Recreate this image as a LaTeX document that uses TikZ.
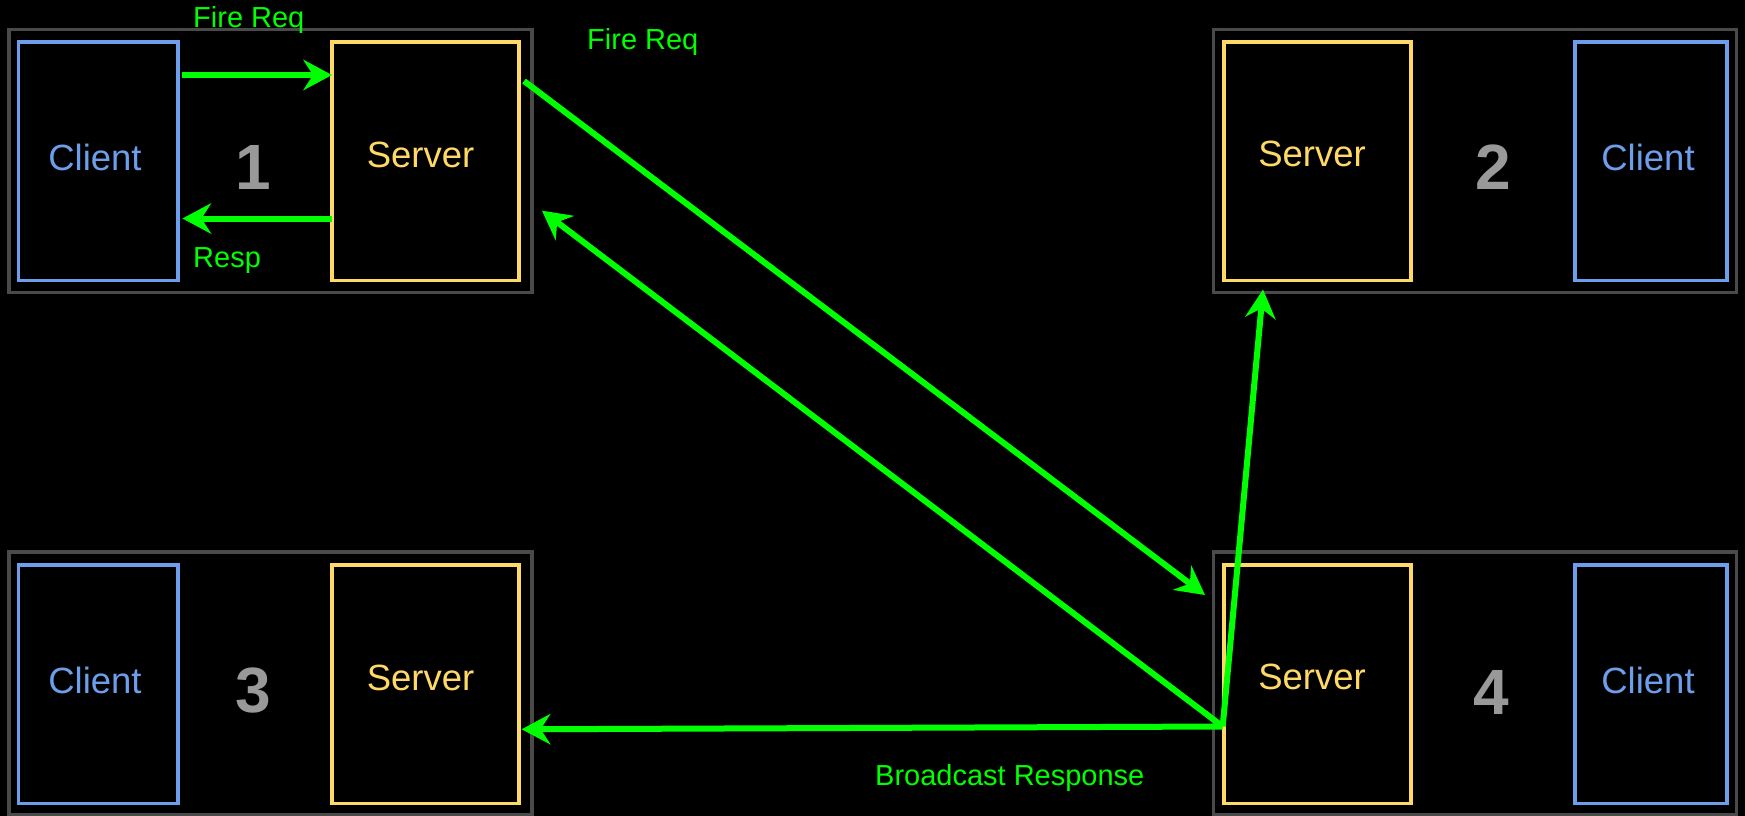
\documentclass[tikz,border=0pt]{standalone}
\usepackage{fontspec}
\setmainfont{Liberation Sans}
\usetikzlibrary{arrows.meta}
\definecolor{cblue}{HTML}{6C9EEB}
\definecolor{syellow}{HTML}{FFD966}
\definecolor{framegray}{HTML}{4A4A4A}
\definecolor{numgray}{HTML}{999999}
\definecolor{flow}{HTML}{00FF00}
\begin{document}
\begin{tikzpicture}[x=1pt,y=-1pt,
  panel/.style={draw=framegray, line width=3.5pt, minimum width=523pt, minimum height=263pt, inner sep=0pt, outer sep=0pt},
  clientbox/.style={draw=cblue, line width=3.5pt, minimum width=159.5pt, minimum height=238.5pt, inner sep=0pt, outer sep=0pt},
  serverbox/.style={draw=syellow, line width=3.5pt, minimum width=187pt, minimum height=238.5pt, inner sep=0pt, outer sep=0pt},
  clienttxt/.style={text=cblue, font=\fontsize{36.5}{40}\selectfont, anchor=base, inner sep=0pt},
  servertxt/.style={text=syellow, font=\fontsize{36.5}{40}\selectfont, anchor=base, inner sep=0pt},
  num/.style={text=numgray, font=\fontsize{64}{70}\selectfont\bfseries, anchor=base, inner sep=0pt},
  msg/.style={text=flow, font=\fontsize{29}{32}\selectfont, anchor=base west, inner sep=0pt},
  flowline/.style={draw=flow, line width=6pt, -{Stealth[length=29pt,width=31pt,inset=10pt,line width=0pt]}},
]
% black canvas
\fill[black] (0,0) rectangle (1745,816);
\useasboundingbox (0,0) rectangle (1745,816);

% four client/server panels
\node[panel] (p1) at (270.5,161) {};
\node[panel] (p2) at (1474.75,161) {};
\node[panel] (p3) at (270.5,683.5) {};
\node[panel] (p4) at (1474.75,683.5) {};

% panel 1
\node[clientbox] (c1) at (98.25,161.25) {};
\node[serverbox] (s1) at (425.5,161.25) {};
\node[clienttxt] (c1t) at (95,170) {Client};
\node[servertxt] (s1t) at (420.5,167.5) {Server};
\node[num] (n1) at (253.5,189) {1};

% panel 2
\node[serverbox] (s2) at (1317.5,161.25) {};
\node[clientbox, minimum width=152pt] (c2) at (1651,161.25) {};
\node[servertxt] (s2t) at (1312,166.5) {Server};
\node[clienttxt] (c2t) at (1648,170) {Client};
\node[num] (n2) at (1493.5,189) {2};

% panel 3
\node[clientbox] (c3) at (98.25,684.25) {};
\node[serverbox] (s3) at (425.5,684.25) {};
\node[clienttxt] (c3t) at (95,693) {Client};
\node[servertxt] (s3t) at (420.5,690.5) {Server};
\node[num] (n3) at (253.5,712) {3};

% panel 4
\node[serverbox] (s4) at (1317.5,684.25) {};
\node[clientbox, minimum width=152pt] (c4) at (1651,684.25) {};
\node[servertxt] (s4t) at (1312,689) {Server};
\node[clienttxt] (c4t) at (1648,693) {Client};
\node[num] (n4) at (1491.5,714) {4};

% connector end points
\coordinate (frtip) at (1205,595);
\coordinate (hub) at (1222.7,726.5);
\coordinate (backtip) at (542,210.7);
\coordinate (bctip) at (521.7,729.3);
\coordinate (uptip) at (1263,289.5);

% request / response inside panel 1
\draw[flowline] ([xshift=4pt]c1.east |- 0,75) -- (s1.west |- 0,75);
\draw[flowline] (s1.west |- 0,218.5) -- ([xshift=4.5pt]c1.east |- 0,218.5);

% forwarded request and the broadcast back out of panel 4
\draw[flowline] ([xshift=5pt]s1.east |- 0,81) -- (frtip);
\draw[flowline] (hub) -- (backtip);
\draw[flowline] (hub) -- (bctip);
\draw[flowline] (hub) -- (uptip);

% message labels
\node[msg] (l1) at (193,27.5) {Fire Req};
\node[msg] (l2) at (193,267) {Resp};
\node[msg] (l3) at (587,49) {Fire Req};
\node[msg] (l4) at (875,785) {Broadcast Response};
\end{tikzpicture}
\end{document}
